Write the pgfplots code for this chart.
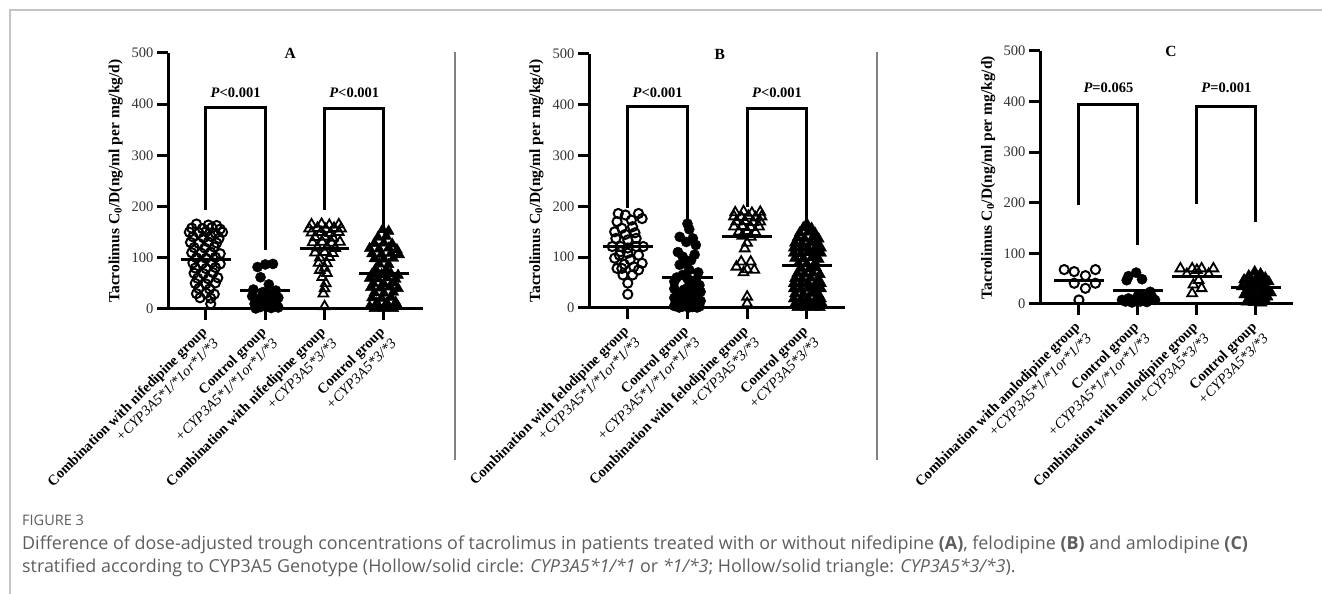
\documentclass[border=0pt]{standalone}
\usepackage{fontspec}
\setmainfont{Liberation Serif}
\newfontfamily\capfont{Open Sans}
\usepackage{pgfplots}
\pgfplotsset{compat=1.18}
\definecolor{sepgray}{HTML}{808080}
\definecolor{framegray}{HTML}{C4C4C4}
\definecolor{capgray}{HTML}{5E5E5E}
\pgfplotsset{
  panel/.style={
    scale only axis, clip=false,
    axis x line*=bottom, axis y line*=left,
    ymin=0, ymax=500, ytick={0,100,200,300,400,500},
    xtick={0,1,2,3}, xticklabels={,,,},
    axis line style={line width=3pt},
    major tick style={line width=3pt, black},
    major tick length=11pt, tick align=outside,
    yticklabel style={font=\fontsize{14.5}{14.5}\selectfont, /pgf/number format/assume math mode=true, color=black!80},
  },
  hollowc/.style={black, only marks, mark=o, mark size=4.6pt, mark options={line width=2pt, black}},
  solidc/.style={black, only marks, mark=*, mark size=5.1pt, mark options={black, fill=black}},
  hollowt/.style={black, only marks, mark=triangle, mark size=5.6pt, mark options={line width=1.8pt, black}},
  solidt/.style={black, only marks, mark=triangle*, mark size=6.3pt, mark options={black, fill=black}},
  meanline/.style={black, line width=3pt, no marks},
  bracket/.style={black, line width=3pt, no marks, line join=miter},
}
\newcommand{\xlab}[3]{\node[rotate=45, anchor=east, align=right, inner sep=0pt, font=\fontsize{14.5}{16.5}\selectfont] at ([xshift=4pt,yshift=-26pt]axis cs:#1,0) {\textbf{#2}\\\textit{#3}};}
\newcommand{\ylab}{\node[rotate=90, anchor=center, inner sep=0pt, font=\bfseries\fontsize{15.5}{16}\selectfont] at (rel axis cs:-0.205,0.5) {Tacrolimus C\textsubscript{0}/D(ng/ml per mg/kg/d)};}
\begin{document}
\begin{tikzpicture}
\path[use as bounding box] (0pt,0pt) rectangle (1322pt,594pt);
\draw[framegray, line width=1.2pt] (10pt,0pt) -- (10pt,584pt) -- (1322pt,584pt);
\draw[sepgray, line width=2.5pt] (455pt,134pt) -- (455pt,542pt);
\draw[sepgray, line width=2.5pt] (877pt,134pt) -- (877pt,542pt);

% ---------------- Panel A ----------------
\begin{axis}[panel, at={(168pt,285pt)}, anchor=south west, width=255pt, height=256pt, xmin=-0.64, xmax=3.66]
\addplot[bracket] coordinates {(0,193) (0,394) (1,394) (1,115)};
\addplot[bracket] coordinates {(2,193) (2,391) (3,391) (3,150)};
\addplot[hollowc] coordinates {
(-0.16,166)(0.04,164)(0.18,163)
(-0.24,158)(-0.06,157)(0.10,159)(0.24,156)
(-0.28,150)(-0.12,149)(0.00,151)(0.16,148)(0.28,150)
(-0.22,141)(-0.04,139)(0.08,142)(0.22,138)
(-0.26,130)(-0.12,128)(0.04,131)(0.18,129)
(-0.20,120)(-0.02,119)(0.14,121)
(-0.24,110)(-0.08,109)(0.08,111)(0.24,108)
(-0.16,100)(0.00,99)(0.16,101)
(-0.22,90)(-0.06,89)(0.10,91)(0.24,88)
(-0.18,80)(0.00,79)(0.16,81)
(-0.20,70)(-0.04,69)(0.12,71)
(-0.14,60)(0.04,59)(0.20,61)
(-0.18,50)(0.00,49)(0.16,51)
(-0.12,40)(0.06,39)
(-0.16,30)(0.00,31)(0.14,29)
(-0.10,22)(0.08,21)
(0.08,10)};
\addplot[solidc] coordinates {
(0.87,82)(1.00,87)(1.13,88)(0.92,62)(1.06,48)(0.80,38)(1.18,36)(0.96,33)(1.08,28)(0.78,25)(1.22,22)(0.88,20)(1.00,18)(1.12,15)(0.82,10)(1.04,8)(1.20,6)(0.92,4)(1.10,2)(0.84,1)(1.22,3)(1.00,30)(0.96,12)};
\addplot[hollowt] coordinates {
(1.78,165)(1.95,166)(2.08,164)(2.24,165)
(1.74,157)(1.88,158)(2.02,156)(2.16,158)(2.28,157)
(1.78,149)(1.94,150)(2.10,148)(2.24,150)
(1.84,140)(2.00,141)(2.14,139)
(1.80,130)(1.96,131)(2.12,129)(2.26,131)
(1.88,120)(2.04,121)(2.18,119)
(1.84,110)(2.00,111)(2.14,109)
(1.92,100)(2.08,101)
(1.90,90)(2.04,89)
(2.00,80)(1.92,76)
(2.04,70)(1.96,62)(2.02,50)(2.00,40)(1.98,30)(2.00,5)};
\addplot[solidt] coordinates {
(2.98,155)(3.08,152)
(2.90,140)(3.04,142)
(2.84,128)(3.00,129)(3.14,127)
(2.76,118)(2.92,117)(3.08,119)(3.22,116)
(2.80,108)(2.96,107)(3.12,109)(3.26,106)
(2.84,98)(3.00,97)(3.16,99)
(2.92,88)(3.08,87)
(2.86,78)(3.04,77)
(2.80,68)(2.96,67)(3.12,69)(3.24,66)
(2.76,60)(2.90,59)(3.06,61)(3.20,58)
(2.82,50)(3.00,49)(3.16,51)
(2.78,42)(2.94,41)(3.10,43)(3.24,40)
(2.84,32)(3.00,31)(3.16,33)
(2.80,22)(2.96,21)(3.12,23)
(2.88,12)(3.04,11)(3.20,13)
(2.76,5)(2.92,4)(3.08,6)(3.24,5)
(2.84,1)(3.00,1)(3.16,1)};
\addplot[meanline] coordinates {(-0.42,96) (0.42,96)};
\addplot[meanline] coordinates {(0.58,37) (1.42,37)};
\addplot[meanline] coordinates {(1.58,119) (2.42,119)};
\addplot[meanline] coordinates {(2.58,70) (3.42,70)};
\node[font=\bfseries\fontsize{15.5}{15.5}\selectfont] at (axis cs:1.42,500) {A};
\node[font=\bfseries\fontsize{14.5}{14.5}\selectfont] at (axis cs:0.5,422) {\textit{P}<0.001};
\node[font=\bfseries\fontsize{14.5}{14.5}\selectfont] at (axis cs:2.5,422) {\textit{P}<0.001};
\ylab
\xlab{0}{Combination with nifedipine group}{+CYP3A5*1/*1or*1/*3}
\xlab{1}{Control group}{+CYP3A5*1/*1or*1/*3}
\xlab{2}{Combination with nifedipine group}{+CYP3A5*3/*3}
\xlab{3}{Control group}{+CYP3A5*3/*3}
\end{axis}

% ---------------- Panel B ----------------
\begin{axis}[panel, at={(589pt,286pt)}, anchor=south west, width=256pt, height=254pt, xmin=-0.65, xmax=3.64]
\addplot[bracket] coordinates {(0,197) (0,396) (1,396) (1,160)};
\addplot[bracket] coordinates {(2,199) (2,392) (3,392) (3,167)};
\addplot[hollowc] coordinates {
(-0.16,186)(-0.04,183)(0.18,186)(0.24,176)(-0.18,170)(0.06,173)(-0.10,157)(0.08,160)(-0.22,150)(0.14,137)(-0.20,137)(0.00,134)(-0.26,121)(-0.12,121)(0.14,121)(0.26,121)(0.00,118)(-0.12,111)(0.00,108)(-0.14,104)(0.18,104)(-0.22,98)(0.04,95)(0.24,88)(-0.06,86)(0.10,81)(-0.10,78)(0.18,75)(-0.18,78)(-0.08,65)(0.08,65)(0.00,49)(0.00,27)(-0.04,145)(0.12,148)};
\addplot[solidc] coordinates {
(1.00,166)(1.03,155)(0.87,140)(1.09,137)(0.98,130)(1.14,124)(0.92,101)(1.06,94)(0.87,85)(1.03,75)(0.92,65)(1.14,55)(0.78,52)(1.03,45)(1.20,45)
(0.84,110)(1.12,105)(0.96,88)(1.18,70)(0.82,60)(1.00,58)
(0.78,38)(0.94,36)(1.10,35)(1.22,32)(0.84,28)(1.00,26)(1.16,24)(0.78,20)(0.90,18)(1.06,16)(1.22,14)(0.82,10)(0.98,9)(1.14,8)(0.78,4)(0.92,3)(1.08,2)(1.20,3)(0.86,1)(1.02,1)(1.16,1)(0.96,22)};
\addplot[hollowt] coordinates {
(1.80,188)(1.94,190)(2.08,187)(2.22,189)
(1.78,180)(1.90,179)(2.02,181)(2.14,178)(2.24,180)
(1.82,170)(1.96,171)(2.10,169)(2.22,170)
(1.78,160)(1.92,161)(2.06,159)(2.20,160)
(1.86,150)(2.00,151)(2.14,149)
(1.92,142)(2.06,140)
(2.00,128)(1.96,117)
(1.90,91)(2.06,91)(1.82,81)(2.00,76)(2.12,75)(1.94,70)
(2.00,22)(2.00,9)};
\addplot[solidt] coordinates {
(3.00,166)(2.94,158)(3.08,157)
(2.88,148)(3.02,149)(3.14,147)
(2.84,138)(2.96,137)(3.10,139)(3.20,136)
(2.80,128)(2.92,127)(3.06,129)(3.18,126)
(2.78,118)(2.90,117)(3.02,119)(3.14,116)(3.24,118)
(2.78,108)(2.90,107)(3.02,109)(3.14,106)(3.24,108)
(2.80,98)(2.94,97)(3.08,99)(3.20,96)
(2.86,88)(3.00,87)(3.14,89)
(2.90,78)(3.04,77)(3.16,79)
(2.84,68)(2.96,67)(3.10,69)(3.22,66)
(2.80,58)(2.92,57)(3.06,59)(3.20,56)
(2.78,48)(2.90,47)(3.02,49)(3.14,46)(3.24,48)
(2.78,38)(2.90,37)(3.02,39)(3.14,36)(3.24,38)
(2.80,28)(2.94,27)(3.08,29)(3.20,26)
(2.78,18)(2.90,17)(3.02,19)(3.14,16)(3.24,18)
(2.80,8)(2.92,7)(3.04,9)(3.16,6)(3.26,8)
(2.84,1)(2.98,1)(3.12,1)(3.22,1)};
\addplot[meanline] coordinates {(-0.42,122) (0.42,122)};
\addplot[meanline] coordinates {(0.58,61) (1.42,61)};
\addplot[meanline] coordinates {(1.58,140) (2.42,140)};
\addplot[meanline] coordinates {(2.58,83) (3.42,83)};
\node[font=\bfseries\fontsize{15.5}{15.5}\selectfont] at (axis cs:1.54,500) {B};
\node[font=\bfseries\fontsize{14.5}{14.5}\selectfont] at (axis cs:0.5,423) {\textit{P}<0.001};
\node[font=\bfseries\fontsize{14.5}{14.5}\selectfont] at (axis cs:2.5,423) {\textit{P}<0.001};
\ylab
\xlab{0}{Combination with felodipine group}{+CYP3A5*1/*1or*1/*3}
\xlab{1}{Control group}{+CYP3A5*1/*1or*1/*3}
\xlab{2}{Combination with felodipine group}{+CYP3A5*3/*3}
\xlab{3}{Control group}{+CYP3A5*3/*3}
\end{axis}

% ---------------- Panel C ----------------
\begin{axis}[panel, at={(1040pt,290pt)}, anchor=south west, width=253pt, height=253pt, xmin=-0.66, xmax=3.63]
\addplot[bracket] coordinates {(0,196) (0,395) (1,395) (1,117)};
\addplot[bracket] coordinates {(2,197) (2,391) (3,391) (3,162)};
\addplot[hollowc] coordinates {(-0.25,68)(-0.08,64)(0.11,56)(0.28,68)(-0.08,41)(0.11,31)(0.28,41)(0.00,8)};
\addplot[solidc] coordinates {(0.84,55)(0.97,62)(1.07,49)(0.81,47)(0.73,8)(0.84,11)(0.95,8)(1.10,14)(1.21,24)(1.29,8)(1.04,5)(0.79,5)(1.15,4)(0.90,3)(1.24,14)(1.00,16)};
\addplot[hollowt] coordinates {(1.72,70)(1.92,70)(2.08,70)(2.28,70)(2.00,67)(1.83,59)(2.20,59)(2.03,47)(1.94,38)(2.08,31)(1.92,21)};
\addplot[solidt] coordinates {(2.98,64)(3.08,60)(2.88,56)(3.02,54)(3.16,52)(2.80,48)(2.94,46)(3.08,45)(3.22,44)(2.86,40)(3.00,38)(3.14,37)(2.76,34)(2.92,32)(3.06,31)(3.20,30)(2.84,26)(2.98,25)(3.12,24)(3.26,22)(2.80,18)(2.94,17)(3.08,16)(3.20,14)(2.88,10)(3.02,9)(3.16,8)(2.96,3)(3.10,2)(2.84,4)};
\addplot[meanline] coordinates {(-0.42,47) (0.42,47)};
\addplot[meanline] coordinates {(0.58,26) (1.42,26)};
\addplot[meanline] coordinates {(1.58,55) (2.42,55)};
\addplot[meanline] coordinates {(2.58,32) (3.42,32)};
\node[font=\bfseries\fontsize{15.5}{15.5}\selectfont] at (axis cs:1.56,500) {C};
\node[font=\bfseries\fontsize{14.5}{14.5}\selectfont] at (axis cs:0.5,427) {\textit{P}=0.065};
\node[font=\bfseries\fontsize{14.5}{14.5}\selectfont] at (axis cs:2.5,427) {\textit{P}=0.001};
\ylab
\xlab{0}{Combination with amlodipine group}{+CYP3A5*1/*1or*1/*3}
\xlab{1}{Control group}{+CYP3A5*1/*1or*1/*3}
\xlab{2}{Combination with amlodipine group}{+CYP3A5*3/*3}
\xlab{3}{Control group}{+CYP3A5*3/*3}
\end{axis}

% ---------------- Caption ----------------
\node[anchor=base west, inner sep=0pt, font=\capfont\fontsize{14.5}{14.5}\selectfont, text=capgray] at (22pt,68pt) {FIGURE 3};
\node[anchor=base west, inner sep=0pt, font=\capfont\fontsize{17.9}{18}\selectfont, text=capgray] at (22pt,44pt) {Difference of dose-adjusted trough concentrations of tacrolimus in patients treated with or without nifedipine \textbf{(A)}, felodipine \textbf{(B)} and amlodipine \textbf{(C)}};
\node[anchor=base west, inner sep=0pt, font=\capfont\fontsize{17.9}{18}\selectfont, text=capgray] at (22pt,21pt) {stratified according to CYP3A5 Genotype (Hollow/solid circle: \textit{CYP3A5*1/*1} or \textit{*1/*3}; Hollow/solid triangle: \textit{CYP3A5*3/*3}).};
\end{tikzpicture}
\end{document}
